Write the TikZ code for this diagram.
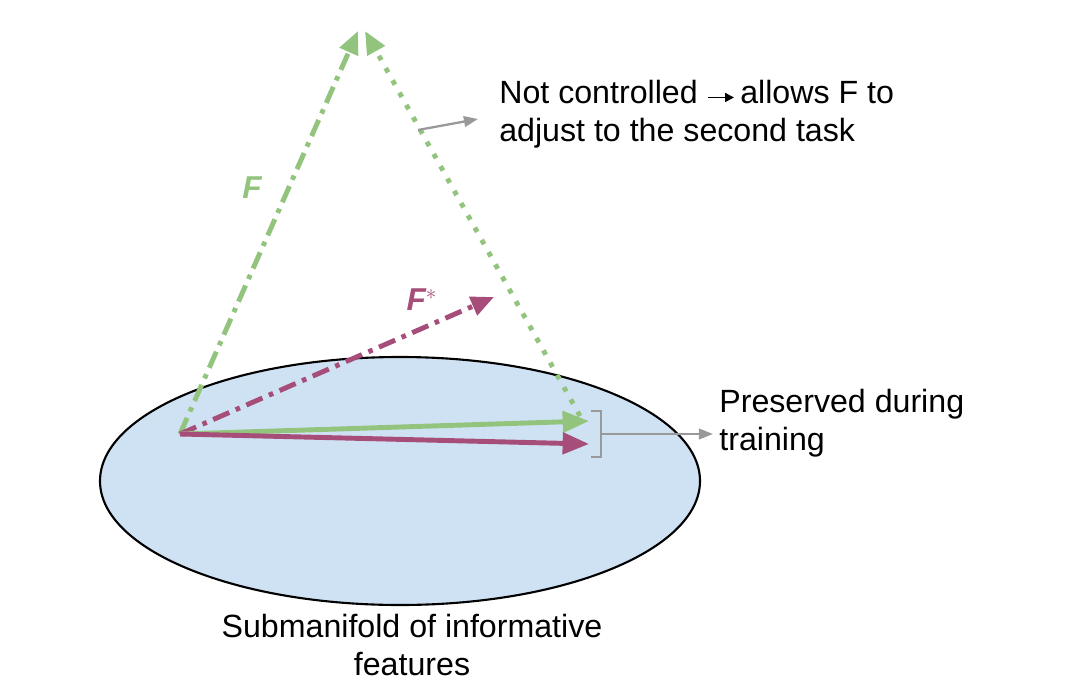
\documentclass[tikz,border=0pt]{standalone}
\usepackage{fontspec}
\setmainfont{Liberation Sans}
\usetikzlibrary{arrows.meta}
\definecolor{leafgreen}{HTML}{93C47D}
\definecolor{plum}{HTML}{A64D79}
\definecolor{skyfill}{HTML}{CFE2F3}
\definecolor{pointer}{HTML}{999999}
\newcommand{\inlinearrow}{\tikz[baseline=-0.35ex]\draw[line width=1.1pt,-{Triangle[length=5pt,width=5pt]}] (0pt,0pt) -- (15pt,0pt);}

\begin{document}
\begin{tikzpicture}[x=0.02cm,y=-0.02cm,
	vec/.style={line width=2.8pt,-{Triangle[length=15pt,width=12pt]}},
	dashvec/.style={line width=2.8pt,dash pattern=on 10pt off 4pt on 2.6pt off 4pt,-{Triangle[length=13pt,width=11pt]}},
	dotvec/.style={line width=2.8pt,dash pattern=on 2.8pt off 5.2pt,-{Triangle[length=13pt,width=11pt]}},
	greypointer/.style={draw=pointer,line width=1.3pt,-{Triangle[length=8pt,width=6pt]}},
	txt/.style={font=\fontsize{18.3}{21.5}\selectfont,align=left,inner sep=0pt},
	veclabel/.style={font=\fontsize{18}{21.5}\selectfont\bfseries\itshape,inner sep=0pt}]
		\useasboundingbox (0,0) rectangle (1089,693);

		\draw[line width=1.2pt,fill=skyfill] (400,481) ellipse [x radius=300,y radius=124];

		\coordinate (O) at (180,434);
		\coordinate (apex) at (358,31);
		\coordinate (fstar) at (494,297);
		\coordinate (gtip) at (589,421);
		\coordinate (mtip) at (589,444);
		\coordinate (dotstart) at (580,416);
		\coordinate (brtop) at (591,411);
		\coordinate (brbot) at (591,457);
		\coordinate (brmid) at (601,434);
		\coordinate (ptrstart) at (418,130);
		\coordinate (ptrend) at (478,119);

		\draw[dashvec,leafgreen] (O) -- (apex);
		\draw[dotvec,leafgreen] (dotstart) -- ([xshift=4]apex);
		\draw[dashvec,plum] (O) -- (fstar);

		\draw[vec,leafgreen] (O) -- (gtip);
		\draw[vec,plum] (O) -- (mtip);

		\draw[draw=pointer,line width=1.3pt] (brtop) -- ++(10,0) |- (brbot);
		\draw[greypointer] (brmid) -- (713,434) coordinate (ptrtail);
		\draw[greypointer] (ptrstart) -- (ptrend);

		\node[veclabel,text=leafgreen] (flabel) at (252,188) {F};
		\node[veclabel,text=plum] (fstarlabel) at (422,300) {F$^{*}$};

		\node[txt,anchor=west] (notctrl) at (499,114) {Not controlled \inlinearrow\,allows F to\\adjust to the second task};
		\node[txt,anchor=west] (preserved) at (719,423) {Preserved during\\training};
		\node[txt,align=center] (manifold) at (412,645) {Submanifold of informative\\features};
\end{tikzpicture}
\end{document}
